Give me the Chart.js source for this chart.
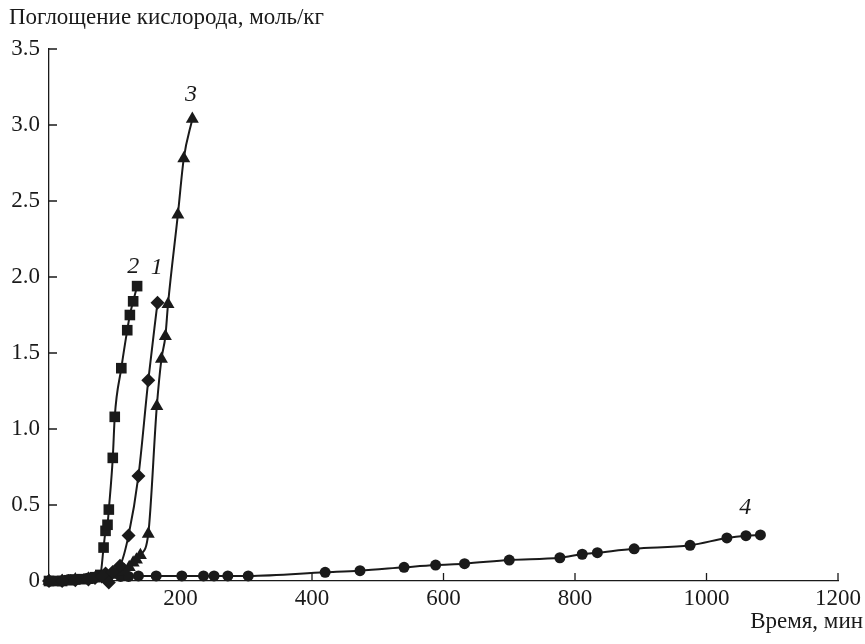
<!DOCTYPE html>
<html>
<head>
<meta charset="utf-8">
<script src="https://cdn.jsdelivr.net/npm/chart.js@4.4.1/dist/chart.umd.min.js"></script>
<style>
  html, body { margin: 0; padding: 0; background: #fff; }
  #wrap { width: 865px; height: 644px; }
</style>
</head>
<body>
<div id="wrap"><canvas id="oxChart" width="865" height="644"></canvas></div>
<script>
// Oxygen uptake vs time, four samples (1-4)

// --- Data ---
const time1 = [0, 20, 40, 60, 70, 80, 86, 91, 97, 108, 121, 136, 151, 165];
const uptake1 = [0, 0, 0.005, 0.01, 0.02, 0.03, 0.05, -0.01, 0.06, 0.1, 0.3, 0.69, 1.32, 1.83];

const time2 = [0, 10, 20, 30, 40, 50, 60, 70, 78, 83, 86, 89, 91, 97, 100, 110, 119, 123, 128, 134];
const uptake2 = [0, 0, 0, 0.005, 0.01, 0.012, 0.015, 0.025, 0.04, 0.22, 0.33, 0.37, 0.47, 0.81, 1.08, 1.40, 1.65, 1.75, 1.84, 1.94];

const time3 = [0, 20, 40, 60, 80, 95, 105, 115, 122, 128, 133, 139, 151, 164, 171, 177, 181, 196, 205, 218];
const uptake3 = [0, 0, 0.01, 0.015, 0.02, 0.04, 0.06, 0.07, 0.09, 0.12, 0.14, 0.17, 0.31, 1.15, 1.46, 1.61, 1.82, 2.41, 2.78, 3.04];

const time4 = [0, 30, 60, 90, 109, 121, 136, 163, 202, 235, 251, 272, 303, 420, 473, 540, 588, 632, 700, 777, 811, 834, 890, 975, 1031, 1060, 1082];
const uptake4 = [0, 0.01, 0.02, 0.025, 0.03, 0.03, 0.033, 0.033, 0.033, 0.033, 0.033, 0.033, 0.033, 0.057, 0.068, 0.09, 0.105, 0.114, 0.138, 0.153, 0.176, 0.186, 0.212, 0.235, 0.283, 0.298, 0.303];

const xTicks = [0, 200, 400, 600, 800, 1000, 1200];
const yTicks = [0, 0.5, 1.0, 1.5, 2.0, 2.5, 3.0, 3.5];

// curve numbers, placed in data units
const curveLabels = [
  { text: '1', x: 164, y: 2.06 },
  { text: '2', x: 128, y: 2.07 },
  { text: '3', x: 216, y: 3.2 },
  { text: '4', x: 1059, y: 0.48 }
];

const yTitle = 'Поглощение кислорода, моль/кг';
const xTitle = 'Время, мин';

// --- Helpers ---
const INK = '#1a1a1a';
const SERIF = '"Liberation Serif", "Times New Roman", serif';

function toPoints(xs, ys) {
  return xs.map((x, i) => ({ x: x, y: ys[i] }));
}

function series(xs, ys, style, radius) {
  return {
    data: toPoints(xs, ys),
    borderColor: INK,
    backgroundColor: INK,
    borderWidth: 2,
    pointStyle: style,
    pointRadius: radius,
    pointBorderWidth: 0,
    cubicInterpolationMode: 'monotone',
    clip: false
  };
}

// inward ticks, curve numbers and axis titles
const decorations = {
  id: 'decorations',
  afterDraw(chart) {
    const ctx = chart.ctx;
    const xs = chart.scales.x;
    const ys = chart.scales.y;
    const area = chart.chartArea;
    ctx.save();
    ctx.strokeStyle = INK;
    ctx.lineWidth = 1.3;
    ctx.beginPath();
    xTicks.forEach(v => {
      if (v === 0) return;
      const px = xs.getPixelForValue(v);
      ctx.moveTo(px, area.bottom);
      ctx.lineTo(px, area.bottom - 8);
    });
    yTicks.forEach(v => {
      if (v === 0) return;
      const py = ys.getPixelForValue(v);
      ctx.moveTo(area.left, py);
      ctx.lineTo(area.left + 8, py);
    });
    ctx.stroke();

    ctx.fillStyle = INK;
    ctx.font = 'italic 24px ' + SERIF;
    ctx.textAlign = 'center';
    ctx.textBaseline = 'middle';
    curveLabels.forEach(l => {
      ctx.fillText(l.text, xs.getPixelForValue(l.x), ys.getPixelForValue(l.y));
    });

    ctx.font = '23px ' + SERIF;
    ctx.textAlign = 'left';
    ctx.fillText(yTitle, 9, 18);
    ctx.textAlign = 'right';
    ctx.fillText(xTitle, 863, 622);
    ctx.restore();
  }
};

// --- Chart ---
const chart = new Chart(document.getElementById('oxChart').getContext('2d'), {
  type: 'line',
  data: {
    datasets: [
      series(time1, uptake1, 'rectRot', 7),
      series(time2, uptake2, 'rect', 7.5),
      series(time3, uptake3, 'triangle', 7.5),
      series(time4, uptake4, 'circle', 5.5)
    ]
  },
  options: {
    responsive: false,
    animation: false,
    layout: { padding: { left: 0, right: 27, top: 49, bottom: 0 } },
    plugins: {
      legend: { display: false },
      tooltip: { enabled: false }
    },
    scales: {
      x: {
        type: 'linear',
        min: 0,
        max: 1200,
        afterFit: s => { s.height = 63; },
        afterBuildTicks: s => { s.ticks = xTicks.map(v => ({ value: v })); },
        grid: { drawOnChartArea: false, drawTicks: false },
        border: { color: INK, width: 1.3 },
        ticks: {
          padding: 4,
          color: INK,
          font: { family: SERIF, size: 23 },
          maxRotation: 0,
          callback: v => (v === 0 ? '' : String(v))
        }
      },
      y: {
        type: 'linear',
        min: 0,
        max: 3.5,
        afterFit: s => { s.width = 49; },
        afterBuildTicks: s => { s.ticks = yTicks.map(v => ({ value: v })); },
        grid: { drawOnChartArea: false, drawTicks: false },
        border: { color: INK, width: 1.3 },
        ticks: {
          padding: 9,
          color: INK,
          font: { family: SERIF, size: 23 },
          callback: v => (v === 0 ? '0' : v.toFixed(1))
        }
      }
    }
  },
  plugins: [decorations]
});
</script>
</body>
</html>
